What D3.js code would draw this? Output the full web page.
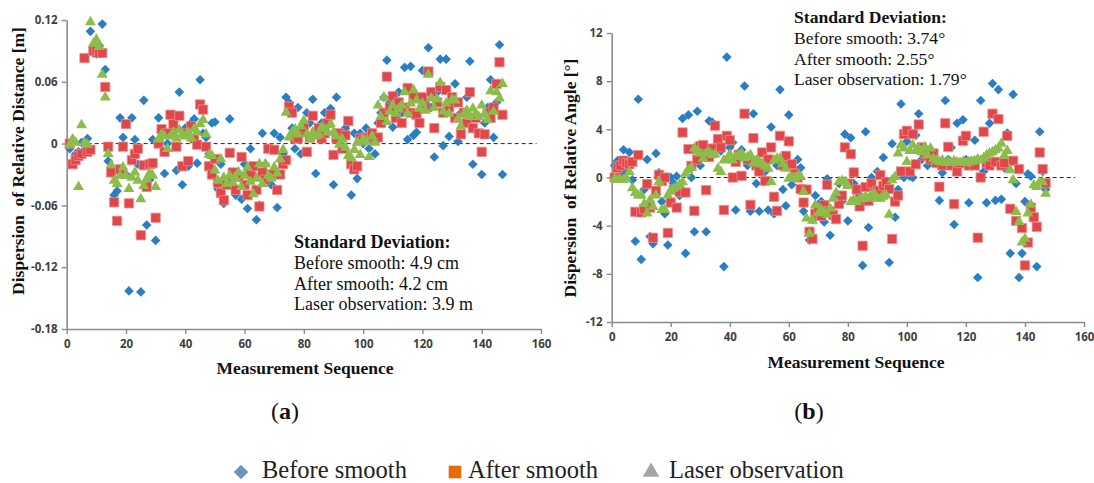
<!DOCTYPE html>
<html><head><meta charset="utf-8">
<script src="https://cdn.jsdelivr.net/npm/d3@7"></script>
<style>
html,body{margin:0;padding:0;background:#fff;}
svg{display:block;}
</style></head>
<body>
<svg id="chart" width="1094" height="483"></svg>
<script>
// ---------- DATA ----------
const seqTicks = [0,20,40,60,80,100,120,140,160];
const distTicks = [-0.18,-0.12,-0.06,0,0.06,0.12];
const distTickLabels = ["-0.18","-0.12","-0.06","0","0.06","0.12"];
const angleTicks = [-12,-8,-4,0,4,8,12];
const angleTickLabels = ["-12","-8","-4","0","4","8","12"];
const seriesNames = ["Before smooth","After smooth","Laser observation"];

const distBefore = [
-0.005,0.002,-0.010,-0.008,0.001,-0.006,0.005,0.109,0.088,0.087,
0.095,0.116,0.072,-0.017,-0.025,-0.050,-0.046,0.025,0.006,-0.030,
-0.143,0.025,0.004,-0.020,-0.144,0.042,-0.079,-0.035,0.004,-0.094,
0.025,0.010,-0.029,0.000,0.026,0.012,-0.026,0.050,-0.040,0.015,
-0.022,0.020,0.024,-0.019,0.062,0.010,0.006,-0.010,0.020,0.021,
-0.044,-0.020,-0.058,-0.035,0.024,-0.040,-0.050,-0.030,-0.054,-0.020,
-0.063,-0.005,-0.030,-0.074,-0.060,0.010,-0.020,-0.035,-0.040,0.010,
-0.062,0.006,-0.010,0.045,0.040,0.015,-0.005,0.035,-0.010,0.015,
0.030,0.020,0.043,-0.029,0.010,0.020,0.030,0.018,0.034,-0.040,
0.045,0.010,0.005,0.015,0.020,-0.050,0.010,-0.034,0.010,0.000,
0.015,-0.005,0.008,-0.010,0.020,0.030,0.045,0.081,0.040,0.016,
0.025,0.050,0.030,0.074,0.004,0.075,0.008,0.011,0.045,0.071,
0.040,0.093,0.035,-0.013,0.050,0.082,-0.002,0.082,0.007,0.040,
0.058,0.002,0.030,0.020,0.045,0.080,-0.020,0.025,0.010,-0.030,
0.020,0.035,0.062,0.006,0.040,0.096,-0.030];

const distAfter = [
0.000,-0.020,-0.016,-0.012,-0.010,0.083,-0.008,-0.006,0.090,0.092,
0.088,0.088,0.055,-0.003,-0.028,-0.057,-0.075,-0.025,-0.003,0.019,
-0.058,-0.016,-0.010,-0.005,-0.089,-0.021,-0.042,-0.020,-0.019,-0.072,
0.000,0.014,-0.008,0.010,0.028,0.019,-0.003,0.027,-0.022,0.010,
-0.017,0.017,0.005,-0.001,0.038,0.033,-0.003,-0.022,-0.030,-0.015,
-0.038,-0.048,-0.055,-0.040,-0.009,-0.028,-0.045,-0.032,-0.013,-0.040,
-0.050,-0.030,-0.022,-0.045,-0.061,-0.028,-0.035,-0.005,-0.030,-0.006,
-0.045,-0.030,-0.020,-0.016,0.036,0.030,0.005,0.005,0.012,0.015,
-0.008,0.006,0.027,0.010,0.015,0.005,0.010,0.020,0.028,-0.011,
0.005,0.010,-0.005,0.008,0.022,-0.020,-0.025,-0.022,0.005,0.003,
0.006,0.004,0.010,0.005,0.006,0.020,0.030,0.065,0.035,0.046,
0.025,0.040,0.020,0.035,0.054,0.030,0.045,0.028,0.020,0.045,
0.035,0.070,0.050,0.015,0.040,0.055,0.030,0.052,0.035,0.045,
0.025,0.040,0.009,0.030,0.020,0.050,0.015,0.025,0.010,-0.008,
0.009,0.030,0.025,0.035,0.058,0.079,0.028];

const distLaser = [
0.000,0.005,0.002,-0.041,0.019,0.002,0.000,0.119,0.098,0.102,
0.095,0.068,0.046,-0.009,-0.020,-0.035,-0.038,-0.030,-0.022,-0.030,
-0.043,-0.032,-0.027,-0.035,-0.053,-0.040,-0.033,-0.028,-0.030,-0.041,
0.005,0.010,0.008,-0.004,0.008,0.012,0.006,0.014,0.010,0.008,
0.012,0.006,0.015,0.012,0.020,0.024,0.010,-0.010,-0.011,-0.025,
-0.035,-0.014,-0.032,-0.038,-0.030,-0.037,-0.033,-0.027,-0.041,-0.030,
-0.022,-0.036,-0.048,-0.033,-0.019,-0.038,-0.019,-0.030,-0.033,-0.022,
-0.028,-0.014,-0.005,0.031,0.007,0.012,0.015,0.010,0.018,0.023,
0.010,0.005,0.012,0.008,0.010,0.017,0.015,0.012,0.020,0.012,
0.008,0.000,0.005,-0.003,-0.011,-0.013,-0.005,0.002,-0.010,0.005,
0.003,-0.012,0.008,0.002,0.038,0.027,0.046,0.022,0.032,0.038,
0.030,0.035,0.038,0.051,0.030,0.040,0.053,0.043,0.035,0.040,
0.033,0.068,0.045,0.036,0.044,0.060,0.032,0.040,0.030,0.044,
0.043,0.025,0.018,0.030,0.033,0.027,0.035,0.030,0.027,0.038,
0.030,0.024,0.052,0.032,0.051,0.045,0.059];

const angleBefore = [
1.0,1.4,0.3,2.3,0.5,2.1,-0.2,-5.3,6.5,-6.8,
-1.0,1.5,-4.9,-5.5,2.0,0.4,-2.0,-3.0,-5.6,0.0,
-0.5,0.1,-1.5,4.9,-6.3,5.2,0.0,-4.5,5.5,1.0,
2.0,-4.5,4.7,4.6,2.6,2.9,2.2,-7.4,10.0,2.5,
2.9,-2.7,1.5,2.3,7.6,1.0,-2.8,5.3,-0.5,-2.8,
1.2,0.5,-2.7,4.2,-3.0,1.0,7.3,-1.0,-2.35,5.2,
-0.6,0.5,1.5,0.8,-2.8,-1.0,-5.2,-3.5,-1.5,-2.8,
-2.0,-3.7,-0.1,-4.8,-2.9,-1.5,-0.5,-2.0,3.6,-3.6,
3.3,-0.5,-1.0,-1.5,-7.3,3.8,-4.15,0.0,-1.0,0.5,
-1.5,1.66,-1.2,-7.06,2.8,-3.3,-1.0,6.1,0.0,3.0,
0.1,0.0,3.5,5.3,1.5,2.5,1.0,2.0,1.5,1.2,
-1.9,0.4,6.4,1.5,2.5,-3.9,4.5,1.0,4.8,1.5,
-2.1,1.0,3.1,-8.3,6.4,0.5,-2.1,4.5,7.8,-1.9,
7.3,-1.8,0.8,3.7,-6.3,6.9,-0.5,-8.3,-6.3,-2.0,
0.3,0.1,-3.45,-7.4,3.8,0.5,-1.0];

const angleAfter = [
0.0,0.8,1.0,1.4,1.2,1.1,1.3,-2.85,1.86,-2.9,
-2.6,-0.55,-2.5,-5.0,-1.1,0.22,-0.3,0.0,-4.6,-2.08,
-1.0,-2.5,-1.2,3.74,-1.25,2.36,0.97,-2.77,1.5,2.6,
2.7,-1.05,1.7,2.4,4.3,3.2,2.5,-2.7,3.46,3.1,
0.0,1.3,1.9,0.14,5.3,1.5,-2.27,3.27,1.0,0.5,
2.08,-0.28,1.5,2.5,-1.6,-2.77,3.46,1.0,1.8,3.0,
1.1,0.3,0.0,-0.96,-2.08,-1.0,-4.5,-5.1,-3.0,-2.6,
-3.2,-2.3,-0.6,-2.8,-3.1,-3.46,-2.2,-1.5,2.5,-0.5,
1.94,0.42,-1.0,-2.4,-5.67,-0.8,-1.94,-0.5,-1.25,-1.1,
0.2,-0.7,-0.4,-0.96,-5.1,-2.0,-1.5,0.5,3.6,3.88,
0.5,3.6,1.1,4.4,2.5,2.0,1.8,1.5,2.0,1.2,
-0.77,1.0,4.5,2.55,1.0,-2.2,0.5,1.2,3.05,3.46,
1.0,1.3,1.0,-5.0,0.0,3.8,1.2,1.0,5.3,1.3,
4.85,1.0,1.2,3.46,-2.6,1.39,-3.6,0.7,-4.2,-7.3,
-5.4,-2.5,-3.3,-4.1,2.08,0.7,-0.47];

const angleLaser = [
0.0,-0.1,-0.1,-0.1,0.0,0.55,-0.8,-1.2,-1.4,-1.4,
-2.1,-2.9,-1.8,-2.35,-1.4,-0.28,-2.6,-2.6,-1.4,-1.0,
-0.83,-0.7,-0.5,-0.3,0.4,0.7,0.9,2.5,2.3,2.1,
1.66,2.1,2.2,1.94,2.0,0.83,0.55,1.5,1.6,2.0,
1.5,1.8,1.9,2.08,1.7,1.8,1.94,1.25,1.5,1.39,
1.2,1.0,0.83,-0.28,1.5,1.66,1.66,1.2,0.83,0.0,
0.1,0.0,0.2,0.14,-1.1,-3.3,-4.57,-3.5,-2.2,-2.9,
-2.6,-2.77,-3.0,-2.5,-1.66,-1.2,-0.28,-0.2,-0.28,-0.6,
-1.94,-1.8,-1.94,-1.7,-1.66,-1.5,-1.66,-1.4,-1.25,-1.66,
-1.66,-1.5,-1.4,-3.0,-0.14,0.14,2.08,2.77,2.5,1.39,
2.3,2.77,2.3,2.5,2.2,2.6,1.94,2.5,1.66,1.5,
1.39,1.5,1.3,1.4,1.3,1.45,1.35,1.3,1.4,1.3,
1.35,1.4,1.45,1.6,1.5,1.7,1.94,2.1,2.2,2.36,
2.5,2.9,1.9,2.3,0.7,-0.14,-2.77,-3.6,-5.3,-5.0,
-2.9,-2.16,-0.55,-0.7,-0.3,-0.3,-1.25];

// ---------- STYLE ----------
const colBefore = "#2a7fc4", colAfter = "#e0474b", colLaser = "#8cbd4a";
const serif = "'Liberation Serif','Times New Roman',serif";
const tickFont = "'Liberation Sans Narrow','Open Sans',sans-serif";

const svg = d3.select("#chart");

const diamondGen = d3.symbol().type(d3.symbolSquare).size(46);
const squareGen  = d3.symbol().type(d3.symbolSquare).size(86);
const triGen     = d3.symbol().type(d3.symbolTriangle).size(52);

function drawPanel(p) {
  const x = d3.scaleLinear().domain([0,160]).range([p.x0, p.x1]);
  const y = d3.scaleLinear().domain(p.yDomain).range([p.y1, p.y0]);
  const g = svg.append("g");

  const ya = g.append("g").attr("transform", `translate(${p.x0},0)`)
    .call(d3.axisLeft(y).tickValues(p.yTicks).tickSize(5).tickSizeOuter(0)
      .tickFormat((d,i)=>p.yLabels[i]));
  const xa = g.append("g").attr("transform", `translate(0,${p.y1})`)
    .call(d3.axisBottom(x).tickValues(seqTicks).tickSize(5).tickSizeOuter(0));
  [ya, xa].forEach(a => {
    a.select(".domain").attr("stroke","#8a8a8a").attr("stroke-width",1.6);
    a.selectAll(".tick line").attr("stroke","#8a8a8a").attr("stroke-width",1.4);
    a.selectAll(".tick text").attr("fill","#404040").style("font-family",tickFont)
      .style("font-size","11.5px").style("font-weight","bold");
  });
  ya.selectAll(".tick text").attr("x",-9);
  xa.selectAll(".tick text").attr("y",11);

  g.append("line").attr("x1",x(0)).attr("x2",x(p.zeroEnd))
    .attr("y1",y(0)).attr("y2",y(0))
    .attr("stroke","#222").attr("stroke-width",1).attr("stroke-dasharray","4,3");

  const idx = (arr) => arr.map((v,i)=>({s:i+1, v:v}));

  g.append("g").selectAll("path").data(idx(p.before)).join("path")
    .attr("d", diamondGen)
    .attr("transform", d=>`translate(${x(d.s)},${y(d.v)}) rotate(45)`)
    .attr("fill", colBefore);
  g.append("g").selectAll("path").data(idx(p.after)).join("path")
    .attr("d", squareGen)
    .attr("transform", d=>`translate(${x(d.s)},${y(d.v)})`)
    .attr("fill", colAfter).attr("stroke","#f08a8a").attr("stroke-width",0.8);
  g.append("g").selectAll("path").data(idx(p.laser)).join("path")
    .attr("d", triGen)
    .attr("transform", d=>`translate(${x(d.s)},${y(d.v)+1})`)
    .attr("fill", colLaser);

  g.append("text")
    .attr("transform", `translate(${p.yTitleX},${p.yTitleY}) rotate(-90)`)
    .attr("text-anchor","middle").attr("xml:space","preserve")
    .style("font-family",serif).style("font-weight","bold").style("font-size","17.5px")
    .attr("fill","#111").text(p.yTitle);
  g.append("text").attr("x",p.xTitleX).attr("y",p.xTitleY).attr("text-anchor","middle")
    .style("font-family",serif).style("font-weight","bold").style("font-size","17.5px")
    .attr("fill","#111").text("Measurement Sequence");

  const st = g.append("g").style("font-family",serif).style("font-size",p.statSize).attr("fill","#111");
  st.append("text").attr("x",p.statX).attr("y",p.statY).style("font-weight","bold").text("Standard Deviation:");
  p.statLines.forEach((t,i)=>{
    st.append("text").attr("x",p.statX).attr("y",p.statY+20.8*(i+1)).text(t);
  });

  const lab = g.append("text").attr("x",p.labX).attr("y",419).attr("text-anchor","middle")
    .style("font-family",serif).style("font-size","24px").attr("fill","#111");
  lab.append("tspan").text("(");
  lab.append("tspan").style("font-weight","bold").text(p.lab);
  lab.append("tspan").text(")");
}

drawPanel({
  x0:66.7, x1:541, y0:20, y1:329, yDomain:[-0.18,0.12],
  yTicks:distTicks, yLabels:distTickLabels, zeroEnd:158.5,
  before:distBefore, after:distAfter, laser:distLaser,
  yTitle:"Dispersion  of Relative Distance [m]", yTitleX:24, yTitleY:161,
  xTitleX:305, xTitleY:374,
  statX:294, statY:248, statSize:"18px",
  statLines:["Before smooth: 4.9 cm","After smooth: 4.2 cm","Laser observation: 3.9 m"],
  labX:285, lab:"a"
});
drawPanel({
  x0:611.7, x1:1084, y0:33, y1:322, yDomain:[-12,12],
  yTicks:angleTicks, yLabels:angleTickLabels, zeroEnd:157,
  before:angleBefore, after:angleAfter, laser:angleLaser,
  yTitle:"Dispersion  of Relative Angle [°]", yTitleX:576, yTitleY:178,
  xTitleX:856, xTitleY:368,
  statX:794, statY:23, statSize:"17.6px",
  statLines:["Before smooth: 3.74°","After smooth: 2.55°","Laser observation: 1.79°"],
  labX:809, lab:"b"
});

// ---------- LEGEND ----------
const legendItems = [
  {name:seriesNames[0], gen:d3.symbol().type(d3.symbolSquare).size(105), rot:45, col:"#7092be", x:241, tx:262},
  {name:seriesNames[1], gen:d3.symbol().type(d3.symbolSquare).size(160), rot:0, col:"#e46c0a", x:455, tx:468},
  {name:seriesNames[2], gen:d3.symbol().type(d3.symbolTriangle).size(120), rot:0, col:"#a5a5a5", x:651, tx:669}
];
const lg = svg.append("g");
legendItems.forEach(it=>{
  lg.append("path").attr("d", it.gen)
    .attr("transform",`translate(${it.x},${472}) rotate(${it.rot})`)
    .attr("fill", it.col);
  lg.append("text").attr("x",it.tx).attr("y",478)
    .style("font-family",serif).style("font-size","24.5px").attr("fill","#222").text(it.name);
});
</script>
</body></html>
